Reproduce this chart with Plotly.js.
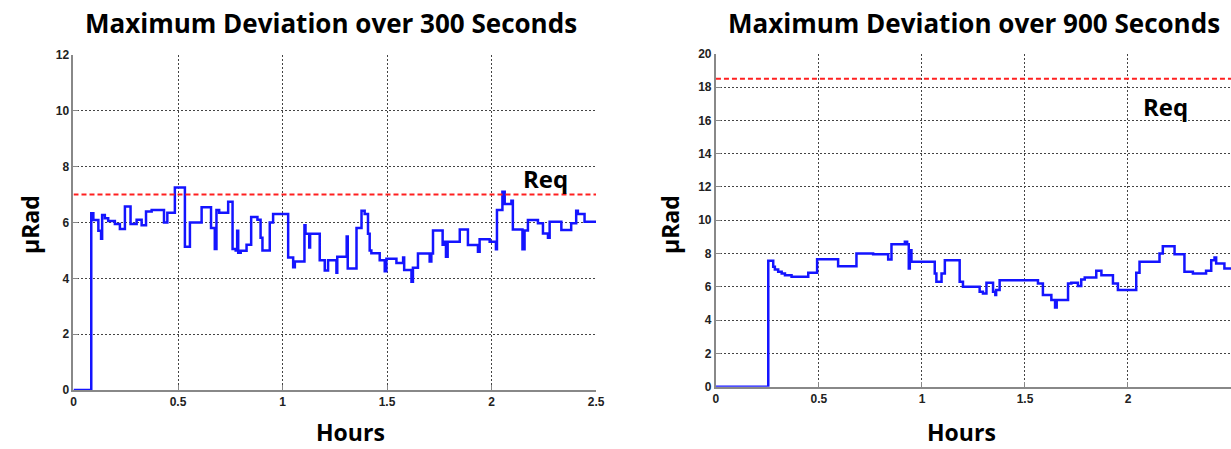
<!DOCTYPE html>
<html>
<head>
<meta charset="utf-8">
<script src="https://cdn.plot.ly/plotly-3.0.1.min.js"></script>
<style>
  html, body { margin: 0; padding: 0; background: #fff; }
  #chart { width: 1231px; height: 449px; }
</style>
</head>
<body>
<div id="chart"></div>
<script>
// ---- Data ----
const titles = ["Maximum Deviation over 300 Seconds", "Maximum Deviation over 900 Seconds"];
const xAxisLabel = "Hours";
const yAxisLabel = "µRad";
const reqLabel = "Req";
const reqLevels = [7, 18.5];

const xTickVals = [0, 0.5, 1, 1.5, 2, 2.5];
const xTickText = ["0", "0.5", "1", "1.5", "2", "2.5"];
const yTickValsLeft = [0, 2, 4, 6, 8, 10, 12];
const yTickValsRight = [0, 2, 4, 6, 8, 10, 12, 14, 16, 18, 20];

// 300 s window
const hoursLeft = [0, 0.085, 0.095, 0.119, 0.132, 0.137, 0.150, 0.166, 0.198, 0.222, 0.246, 0.273,
  0.302, 0.326, 0.347, 0.374, 0.433, 0.449, 0.485, 0.533, 0.557, 0.613, 0.658, 0.676, 0.684, 0.697,
  0.740, 0.761, 0.776, 0.783, 0.788, 0.800, 0.828, 0.850, 0.880, 0.895, 0.904, 0.939, 0.955, 1.027,
  1.051, 1.059, 1.105, 1.110, 1.128, 1.132, 1.178, 1.202, 1.218, 1.258, 1.262, 1.307, 1.312, 1.354,
  1.378, 1.393, 1.409, 1.417, 1.425, 1.465, 1.489, 1.497, 1.545, 1.577, 1.582, 1.617, 1.624, 1.648,
  1.704, 1.712, 1.720, 1.766, 1.770, 1.782, 1.790, 1.848, 1.887, 1.935, 1.943, 1.991, 2.021, 2.026,
  2.052, 2.063, 2.095, 2.102, 2.148, 2.158, 2.174, 2.222, 2.246, 2.270, 2.278, 2.334, 2.381, 2.405,
  2.413, 2.445, 2.500];
const devLeft = [0, 6.33, 6.09, 5.70, 5.42, 6.27, 6.15, 6.05, 5.95, 5.77, 6.57, 5.95,
  6.10, 5.90, 6.39, 6.45, 6.00, 6.35, 7.25, 5.13, 6.00, 6.55, 5.80, 5.05, 6.45, 6.35,
  6.74, 5.05, 5.00, 5.70, 4.92, 4.99, 5.20, 6.20, 6.10, 5.45, 5.00, 6.00, 6.30, 4.75,
  4.40, 4.60, 5.90, 5.60, 5.10, 5.60, 4.65, 4.28, 4.65, 4.20, 4.77, 5.50, 4.35, 5.80,
  6.42, 6.30, 5.60, 5.00, 4.90, 4.65, 4.25, 4.70, 4.55, 4.75, 4.30, 3.88, 4.38, 4.89,
  4.60, 4.89, 5.71, 5.20, 5.31, 4.77, 5.31, 5.75, 5.19, 4.95, 5.40, 5.31, 5.04, 6.45,
  7.10, 6.66, 6.78, 5.75, 5.04, 5.71, 6.09, 5.97, 5.61, 5.45, 6.03, 5.73, 5.97, 6.42,
  6.30, 6.03, 6.03];

// 900 s window
const hoursRight = [0, 0.254, 0.278, 0.286, 0.302, 0.319, 0.335, 0.367, 0.448, 0.491, 0.593, 0.682,
  0.763, 0.836, 0.852, 0.917, 0.928, 0.936, 0.941, 0.949, 1.062, 1.070, 1.095, 1.111, 1.183, 1.199,
  1.280, 1.296, 1.313, 1.345, 1.356, 1.360, 1.377, 1.563, 1.587, 1.628, 1.646, 1.654, 1.709, 1.725,
  1.757, 1.773, 1.790, 1.846, 1.871, 1.927, 1.951, 2.040, 2.056, 2.153, 2.169, 2.226, 2.274, 2.315,
  2.379, 2.404, 2.420, 2.428, 2.468, 2.500];
const devRight = [0, 7.56, 7.20, 7.04, 6.90, 6.80, 6.70, 6.60, 6.84, 7.66, 7.24, 8.00,
  7.96, 7.64, 8.56, 8.70, 8.56, 7.10, 8.20, 7.50, 6.80, 6.30, 6.80, 7.60, 6.30, 6.00,
  5.70, 5.60, 6.24, 5.70, 5.50, 5.80, 6.40, 6.20, 5.50, 5.20, 4.76, 5.20, 6.20, 6.24,
  6.04, 6.44, 6.56, 6.96, 6.70, 6.20, 5.80, 6.84, 7.50, 8.00, 8.44, 7.96, 6.90, 6.80,
  6.96, 7.60, 7.76, 7.40, 7.10, 7.10];

// ---- Styling ----
const blue = "#1414ff";
const red = "#ff2020";
const tickFont = { family: "Liberation Sans, Arial, sans-serif", size: 12, color: "#222", weight: 700 };
const labelFont = { family: "Open Sans, sans-serif", size: 23, color: "#000", weight: 700 };
const reqFont = { family: "Open Sans, sans-serif", size: 24, color: "#000", weight: 700 };
const titleFont = { family: "Open Sans, sans-serif", size: 26, color: "#000", weight: 700 };

const traces = [
  { x: hoursLeft, y: devLeft, xaxis: "x", yaxis: "y", mode: "lines",
    line: { color: blue, width: 2.5, shape: "hv" }, hoverinfo: "skip" },
  { x: [xTickVals[0], xTickVals[xTickVals.length - 1]], y: [reqLevels[0], reqLevels[0]],
    xaxis: "x", yaxis: "y", mode: "lines",
    line: { color: red, width: 2, dash: "5px,3px" }, hoverinfo: "skip" },
  { x: hoursRight, y: devRight, xaxis: "x2", yaxis: "y2", mode: "lines",
    line: { color: blue, width: 2.5, shape: "hv" }, hoverinfo: "skip" },
  { x: [xTickVals[0], xTickVals[xTickVals.length - 1]], y: [reqLevels[1], reqLevels[1]],
    xaxis: "x2", yaxis: "y2", mode: "lines",
    line: { color: red, width: 2, dash: "5px,3px" }, hoverinfo: "skip" }
];

function xAxis(domain, anchor) {
  return {
    domain: domain, anchor: anchor, range: [0, 2.5],
    tickmode: "array", tickvals: xTickVals, ticktext: xTickText,
    showgrid: true, gridcolor: "#444", gridwidth: 1, griddash: "2px,2px",
    zeroline: false, showline: true, linecolor: "#888", linewidth: 2,
    ticks: "inside", ticklen: 5, tickcolor: "#888", tickwidth: 1,
    tickfont: tickFont, fixedrange: true
  };
}
function yAxis(domain, anchor, range, vals) {
  return {
    domain: domain, anchor: anchor, range: range,
    tickmode: "array", tickvals: vals, ticktext: vals.map(String),
    showgrid: true, gridcolor: "#444", gridwidth: 1, griddash: "2px,2px",
    zeroline: false, showline: true, linecolor: "#888", linewidth: 2,
    ticks: "inside", ticklen: 5, tickcolor: "#888", tickwidth: 1,
    tickfont: tickFont, fixedrange: true
  };
}

const layout = {
  width: 1231, height: 449,
  margin: { l: 0, r: 0, t: 0, b: 0 },
  paper_bgcolor: "#fff", plot_bgcolor: "#fff",
  showlegend: false,
  xaxis: xAxis([0.0597, 0.4842], "y"),
  yaxis: yAxis([0.1314, 0.8775], "x", [0, 12], yTickValsLeft),
  xaxis2: xAxis([0.5816, 1.0], "y2"),
  yaxis2: yAxis([0.1388, 0.8804], "x2", [0, 20], yTickValsRight),
  annotations: [
    { text: titles[0], xref: "paper", yref: "paper", x: 0.269, y: 0.949, showarrow: false,
      xanchor: "center", yanchor: "middle", font: titleFont },
    { text: titles[1], xref: "paper", yref: "paper", x: 0.7916, y: 0.949, showarrow: false,
      xanchor: "center", yanchor: "middle", font: titleFont },
    { text: xAxisLabel, xref: "paper", yref: "paper", x: 350 / 1231, y: 1 - 432 / 449, showarrow: false,
      xanchor: "center", yanchor: "middle", font: labelFont },
    { text: xAxisLabel, xref: "paper", yref: "paper", x: 961 / 1231, y: 1 - 432 / 449, showarrow: false,
      xanchor: "center", yanchor: "middle", font: labelFont },
    { text: yAxisLabel, xref: "paper", yref: "paper", x: 30 / 1231, y: 1 - 225 / 449, showarrow: false,
      textangle: -90, xanchor: "center", yanchor: "middle", font: labelFont },
    { text: yAxisLabel, xref: "paper", yref: "paper", x: 670 / 1231, y: 1 - 225 / 449, showarrow: false,
      textangle: -90, xanchor: "center", yanchor: "middle", font: labelFont },
    { text: reqLabel, xref: "x", yref: "y", x: 2.259, y: 7.59, showarrow: false,
      xanchor: "center", yanchor: "middle", font: reqFont },
    { text: reqLabel, xref: "x2", yref: "y2", x: 2.182, y: 16.84, showarrow: false,
      xanchor: "center", yanchor: "middle", font: reqFont }
  ]
};

Plotly.newPlot("chart", traces, layout, { staticPlot: true, displayModeBar: false });
</script>
</body>
</html>
